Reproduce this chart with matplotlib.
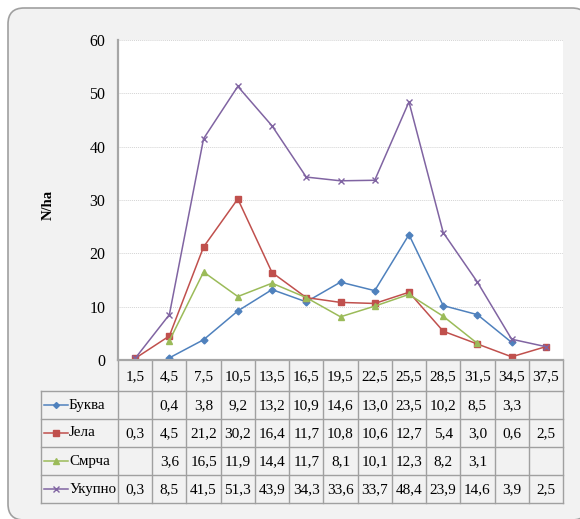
import numpy as np
import matplotlib
matplotlib.use('Agg')
import matplotlib.pyplot as plt
import matplotlib.patches as patches
import matplotlib.transforms as mtransforms

nan = np.nan

# diameter classes (cm)
classes = ['1,5', '4,5', '7,5', '10,5', '13,5', '16,5', '19,5',
           '22,5', '25,5', '28,5', '31,5', '34,5', '37,5']

bukva  = [nan, 0.4, 3.8, 9.2, 13.2, 10.9, 14.6, 13.0, 23.5, 10.2, 8.5, 3.3, nan]
jela   = [0.3, 4.5, 21.2, 30.2, 16.4, 11.7, 10.8, 10.6, 12.7, 5.4, 3.0, 0.6, 2.5]
smrca  = [nan, 3.6, 16.5, 11.9, 14.4, 11.7, 8.1, 10.1, 12.3, 8.2, 3.1, nan, nan]
ukupno = [0.3, 8.5, 41.5, 51.3, 43.9, 34.3, 33.6, 33.7, 48.4, 23.9, 14.6, 3.9, 2.5]

series_names = ['Буква', 'Јела', 'Смрча', 'Укупно']
series_vals = [bukva, jela, smrca, ukupno]
colors = ['#4F81BD', '#C0504D', '#9BBB59', '#8064A2']
markers = ['D', 's', '^', 'x']
msizes = [3.5, 4.5, 4.5, 4.5]

FS = 11
FONT = 'Liberation Serif'

W, H = 580, 519
fig = plt.figure(figsize=(W / 100, H / 100), dpi=100)
fig.patch.set_facecolor('white')

# background overlay in pixel coords (y downwards)
bg = fig.add_axes([0, 0, 1, 1], zorder=0)
bg.set_xlim(0, W)
bg.set_ylim(H, 0)
bg.axis('off')
frame = patches.FancyBboxPatch((8, 8), 580, 512, boxstyle='round,pad=0,rounding_size=16',
                               facecolor='#f2f2f2', edgecolor='#a0a0a0', linewidth=1.2,
                               clip_on=False)
bg.add_patch(frame)

# plot area
left, right, top, bottom = 118, 563, 40, 360
ax = fig.add_axes([left / W, (H - bottom) / H, (right - left) / W, (bottom - top) / H], zorder=2)
ax.set_facecolor('white')
x = np.arange(len(classes)) + 0.5
for vals, c, m, ms in zip(series_vals, colors, markers, msizes):
    ax.plot(x, vals, color=c, lw=1.1, marker=m, markersize=ms,
            markerfacecolor=c, markeredgecolor=c, markeredgewidth=1.0)

ax.set_xlim(0, len(classes))
ax.set_ylim(0, 60)
ax.set_yticks(range(0, 61, 10))
ax.set_xticks([])
for yv in range(10, 61, 10):
    ax.axhline(yv, color='#d4d4d4', lw=0.7, ls=(0, (1, 1)), zorder=0)
for s in ['top', 'right']:
    ax.spines[s].set_visible(False)
ax.spines['left'].set_color('#a6a6a6')
ax.spines['left'].set_linewidth(1.6)
ax.spines['bottom'].set_color('#a6a6a6')
ax.spines['bottom'].set_linewidth(1.6)
ax.tick_params(axis='y', length=0, pad=9, labelsize=11.5)
for lab in ax.get_yticklabels():
    lab.set_fontfamily(FONT)

fig.text(48 / W, 1 - 205 / H, 'N/ha', rotation=90, ha='center', va='center',
         fontsize=10.5, fontweight='bold', fontfamily=FONT)

# data table below the axis: x follows the axes' data scale, y in pixels
tr = mtransforms.blended_transform_factory(ax.transData, bg.transData)
lc = '#a0a0a0'
tab_left = 41
row_y = [360, 391, 419, 447, 475, 503]
n = len(classes)

# header row
for k in range(n + 1):
    bg.plot([k, k], [row_y[0], row_y[1]], color=lc, lw=1, transform=tr, clip_on=False)
for k, lab in enumerate(classes):
    bg.text(k + 0.5, (row_y[0] + row_y[1]) / 2 + 1, lab, transform=tr, ha='center', va='center',
            fontsize=FS, fontfamily=FONT)

# horizontal rules
for yy in row_y[1:]:
    bg.plot([tab_left, right], [yy, yy], color=lc, lw=1, clip_on=False)
# vertical rules for data rows
bg.plot([tab_left, tab_left], [row_y[1], row_y[-1]], color=lc, lw=1)
for k in range(n + 1):
    bg.plot([k, k], [row_y[1], row_y[-1]], color=lc, lw=1, transform=tr, clip_on=False)

for i, (name, vals, c, m, ms) in enumerate(zip(series_names, series_vals, colors, markers, msizes)):
    yc = (row_y[i + 1] + row_y[i + 2]) / 2
    bg.plot([44, 68], [yc, yc], color=c, lw=1.1)
    bg.plot([56], [yc], marker=m, color=c, markersize=ms - 0.5, markeredgewidth=1.0)
    bg.text(69, yc, name, ha='left', va='center', fontsize=10.8, fontfamily=FONT)
    for k, v in enumerate(vals):
        if np.isnan(v):
            continue
        bg.text(k + 0.5, yc + 1, f'{v:.1f}'.replace('.', ','), transform=tr,
                ha='center', va='center', fontsize=FS, fontfamily=FONT)

fig.savefig('out.png', dpi=100, facecolor='white')
